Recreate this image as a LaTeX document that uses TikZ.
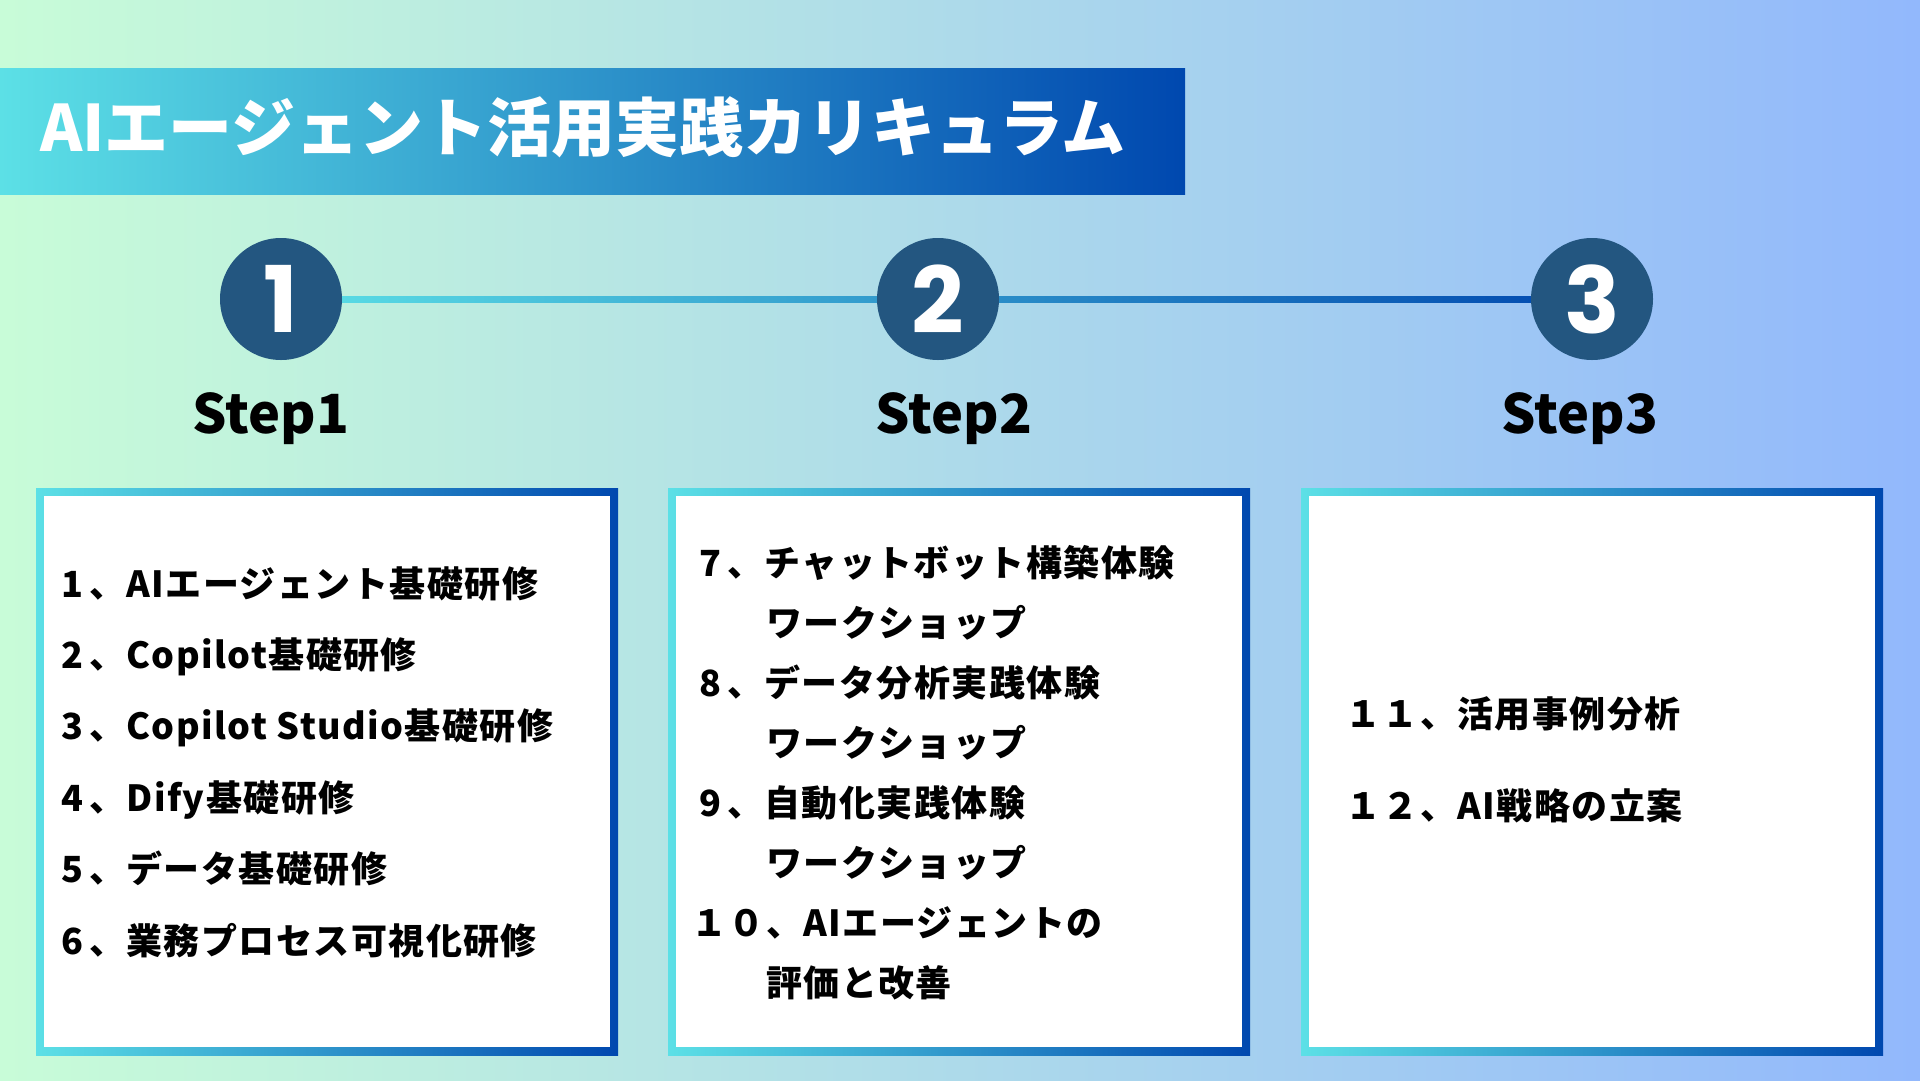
\documentclass[tikz,border=0pt]{standalone}
\usepackage{fontspec}
\setmainfont{Noto Sans CJK JP}
\newfontfamily\numfont{Poppins}
\usetikzlibrary{calc}
\definecolor{bgL}{RGB}{200,252,216}
\definecolor{bgR}{RGB}{146,184,252}
\definecolor{gL}{RGB}{92,224,230}
\definecolor{gR}{RGB}{0,72,175}
\definecolor{circ}{RGB}{35,86,128}
\newcommand\itemfont{\fontsize{36}{36}\selectfont\bfseries\addfontfeature{LetterSpace=4}}
\newcommand\dg{\kern6pt}
\tikzset{
  item/.style={anchor=base west, inner sep=0pt, font=\itemfont, text=black},
  stepnum/.style={circle, fill=circ, minimum size=122pt, inner sep=0pt, text=white,
    font=\numfont\fontsize{92}{92}\selectfont\bfseries},
  steplabel/.style={anchor=base, inner sep=0pt, font=\fontsize{54}{54}\selectfont\bfseries},
  gradfill/.style={left color=gL, right color=gR},
}
\begin{document}
\begin{tikzpicture}[x=1pt,y=-1pt]
\useasboundingbox (0,0) rectangle (1920,1080);
\shade[left color=bgL, right color=bgR] (0,0) rectangle (1920,1080);
% title banner
\shade[gradfill] (0,68) rectangle (1185,194);
\node[anchor=base west, inner sep=0pt, text=white, font=\fontsize{64}{64}\selectfont\bfseries] (title) at (40,151) {AIエージェント活用実践カリキュラム};
% timeline
\coordinate (p1) at (281,299);
\coordinate (p2) at (938,299);
\coordinate (p3) at (1592,299);
\shade[gradfill] ($(p1)+(0,-3)$) rectangle ($(p3)+(0,3)$);
\node[stepnum] (c1) at (p1) {1};
\node[stepnum] (c2) at (p2) {2};
\node[stepnum] (c3) at (p3) {3};
\node[steplabel] (s1) at (271,433) {Step1};
\node[steplabel] (s2) at (954,433) {Step2};
\node[steplabel] (s3) at (1580,433) {Step3};
% boxes
\foreach \bx in {36,668,1301}{
  \shade[gradfill] (\bx,488) rectangle ++(582,567);
  \fill[white] (\bx+8,496) rectangle ++(566,551);
}
% box 1
\node[item] (t1) at (61,597) {1\dg、AIエージェント基礎研修};
\node[item] (t2) at (61,668.4) {2\dg、Copilot基礎研修};
\node[item] (t3) at (61,739.8) {3\dg、Copilot Studio基礎研修};
\node[item] (t4) at (61,811.2) {4\dg、Dify基礎研修};
\node[item] (t5) at (61,882.6) {5\dg、データ基礎研修};
\node[item] (t6) at (61,954) {6\dg、業務プロセス可視化研修};
% box 2
\node[item] (t7) at (699,576) {7\dg、チャットボット構築体験};
\node[item] (t7b) at (766,636) {ワークショップ};
\node[item] (t8) at (699,696) {8\dg、データ分析実践体験};
\node[item] (t8b) at (766,756) {ワークショップ};
\node[item] (t9) at (699,816) {9\dg、自動化実践体験};
\node[item] (t9b) at (766,876) {ワークショップ};
\node[item] (t10) at (691,936) {１０、AIエージェントの};
\node[item] (t10b) at (766,996) {評価と改善};
% box 3
\node[item] (t11) at (1345,727) {１１、活用事例分析};
\node[item] (t12) at (1345,819) {１２、AI戦略の立案};
\end{tikzpicture}
\end{document}
